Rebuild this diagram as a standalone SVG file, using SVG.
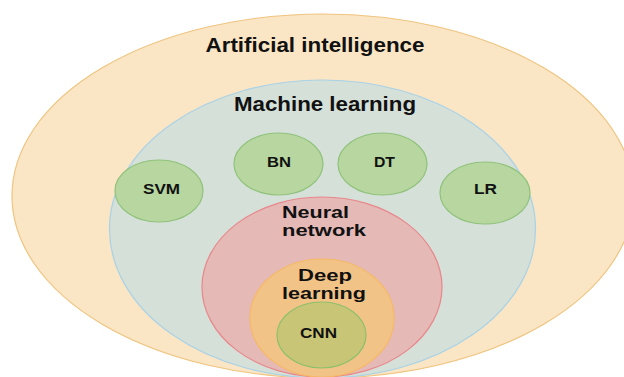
<svg xmlns="http://www.w3.org/2000/svg" width="624" height="377" viewBox="0 0 624 377">
  <style>
    .lbl { font-family: "Liberation Sans", Arial, sans-serif; font-weight: bold; fill: #111; }
    .big { font-size: 20px; }
    .mid { font-size: 16.5px; }
    .small { font-size: 14px; }
    .algo { fill: #b8d6a0; stroke: #8fc27a; stroke-width: 1.2; }
  </style>
  <rect width="624" height="377" fill="#ffffff"/>

  <!-- nested sets, all touching near the bottom edge -->
  <g id="ai">
    <ellipse cx="323" cy="196" rx="311" ry="182" fill="#fae5c5" stroke="#efc47f" stroke-width="1.2"/>
    <text class="lbl big" x="315" y="52" text-anchor="middle" textLength="219" lengthAdjust="spacingAndGlyphs">Artificial intelligence</text>
  </g>

  <g id="ml">
    <ellipse cx="322.5" cy="229" rx="213" ry="149" fill="#d5e0d9" stroke="#a9d2e6" stroke-width="1.2"/>
    <text class="lbl big" x="325" y="111" text-anchor="middle" textLength="182" lengthAdjust="spacingAndGlyphs">Machine learning</text>
  </g>

  <g id="svm">
    <ellipse class="algo" cx="159" cy="191" rx="44" ry="31"/>
    <text class="lbl small" x="161.5" y="194" text-anchor="middle" textLength="37" lengthAdjust="spacingAndGlyphs">SVM</text>
  </g>
  <g id="bn">
    <ellipse class="algo" cx="278.5" cy="164" rx="44.5" ry="31"/>
    <text class="lbl small" x="279" y="167" text-anchor="middle" textLength="24" lengthAdjust="spacingAndGlyphs">BN</text>
  </g>
  <g id="dt">
    <ellipse class="algo" cx="382.5" cy="164" rx="44.5" ry="31"/>
    <text class="lbl small" x="384.5" y="167" text-anchor="middle" textLength="21" lengthAdjust="spacingAndGlyphs">DT</text>
  </g>
  <g id="lr">
    <ellipse class="algo" cx="485" cy="193" rx="45" ry="31"/>
    <text class="lbl small" x="485.5" y="194" text-anchor="middle" textLength="23" lengthAdjust="spacingAndGlyphs">LR</text>
  </g>

  <g id="nn">
    <ellipse cx="322" cy="287" rx="120" ry="90" fill="#e5b9b6" stroke="#e8878b" stroke-width="1.2"/>
    <text class="lbl mid" x="282" y="218" textLength="67" lengthAdjust="spacingAndGlyphs">Neural</text>
    <text class="lbl mid" x="282" y="236" textLength="84" lengthAdjust="spacingAndGlyphs">network</text>
  </g>

  <g id="dl">
    <ellipse cx="322" cy="318" rx="72" ry="59" fill="#f1c386" stroke="#f6b965" stroke-width="1.2"/>
    <text class="lbl mid" x="325" y="281" text-anchor="middle" textLength="54" lengthAdjust="spacingAndGlyphs">Deep</text>
    <text class="lbl mid" x="324" y="299" text-anchor="middle" textLength="84" lengthAdjust="spacingAndGlyphs">learning</text>
  </g>

  <g id="cnn">
    <ellipse cx="321.5" cy="335" rx="44.5" ry="33" fill="#c9c577" stroke="#8cc06a" stroke-width="1.2"/>
    <text class="lbl small" x="318.5" y="338" text-anchor="middle" textLength="37" lengthAdjust="spacingAndGlyphs">CNN</text>
  </g>

  <g id="connectors"></g>
</svg>
